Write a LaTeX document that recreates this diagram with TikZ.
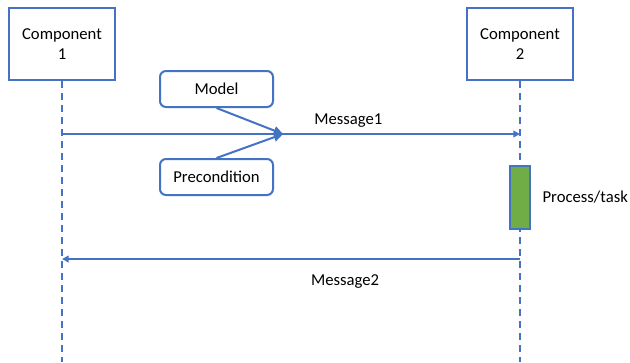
\documentclass[tikz,border=0pt]{standalone}
\usepackage{fontspec}
\setmainfont{Carlito}
\usetikzlibrary{arrows.meta,positioning}
\definecolor{msblue}{RGB}{68,114,196}
\definecolor{msgreen}{RGB}{112,173,71}
\tikzset{every picture/.style={line width=0.75pt}}

\begin{document}
\begin{tikzpicture}[x=0.75pt,y=0.75pt,yscale=-1,xscale=1,
	comp/.style={draw=msblue,line width=1.5pt,fill=white,align=center,minimum width=79.5pt,minimum height=54pt,font=\fontsize{12.5}{15}\selectfont},
	note/.style={draw=msblue,line width=1.5pt,fill=white,rounded corners=4.5pt,minimum width=84.75pt,minimum height=27pt,font=\fontsize{12.5}{15}\selectfont},
	lifeline/.style={draw=msblue,line width=1.5pt,dash pattern=on 5pt off 4pt},
	msg/.style={draw=msblue,line width=1.5pt,-{Triangle[length=5pt,width=5pt]}},
	hint/.style={draw=msblue,line width=1.5pt,-{Triangle[length=7pt,width=6.5pt]}},
	lbl/.style={font=\fontsize{12.5}{15}\selectfont}]
	\useasboundingbox (0,0) rectangle (630,362);

	%Lifelines
	\node[comp] (comp1) at (62,44) {Component\\1};
	\node[comp] (comp2) at (520,44) {Component\\2};
	\coordinate (end1) at (62,362);
	\coordinate (end2) at (520,362);
	\draw[lifeline] (comp1.south) -- (end1);
	\draw[lifeline] (comp2.south) -- (end2);

	%Process/task
	\node[draw=msblue,line width=1.5pt,fill=msgreen,minimum width=15pt,minimum height=47.25pt,inner sep=0pt] (task) at (520,197.5) {};
	\node[lbl,right=5pt of task] (tasklbl) {Process/task};

	%Message1
	\coordinate (m1s) at (62,134);
	\coordinate (m1e) at (520,134);
	\coordinate (join) at (283,134);
	\draw[msg] (m1s) -- (m1e) node[lbl,pos=0.625,above=1pt] (m1lbl) {Message1};

	%Model and Precondition
	\node[note] (model) at (216.5,89) {Model};
	\node[note] (precond) at (216.5,177) {Precondition};
	\draw[hint] (model.south) -- (join);
	\draw[hint] (precond.north) -- (join);

	%Message2
	\coordinate (m2s) at (520,259);
	\coordinate (m2e) at (62,259);
	\draw[msg] (m2s) -- (m2e) node[lbl,pos=0.382,below=8pt] (m2lbl) {Message2};

\end{tikzpicture}
\end{document}
